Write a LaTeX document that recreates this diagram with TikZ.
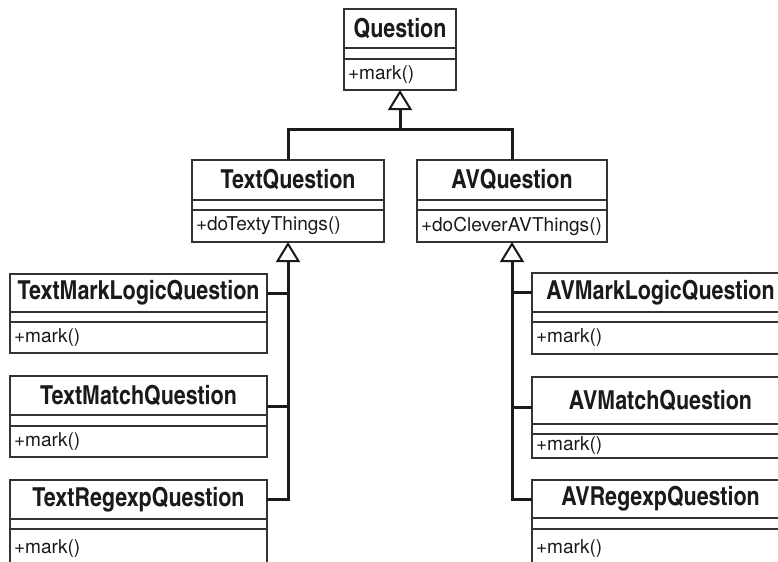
\documentclass[tikz,border=0pt]{standalone}
\usepackage{fontspec}
\setmainfont{TeX Gyre Heros}
\newfontfamily\cnfont{texgyreheroscn}[Extension=.otf, UprightFont=*-regular, BoldFont=*-bold]
\usetikzlibrary{arrows.meta,positioning,calc}
\definecolor{boxgray}{HTML}{333333}
\definecolor{inkblack}{HTML}{1A1A1A}

% one UML class: name, left x, top y, width, row heights (3), title, operation
\newcommand{\umlclass}[9]{%
  \node[clsname,minimum width=#4*0.75pt,text width=#4*0.75pt-4pt,minimum height=#5*0.75pt,anchor=north west] (#1) at (#2,#3) {#8};
  \node[clsgap,minimum width=#4*0.75pt,minimum height=#6*0.75pt,below=0pt of #1] (#1-gap) {};
  \node[clsops,minimum width=#4*0.75pt,text width=#4*0.75pt-6pt,minimum height=#7*0.75pt,below=0pt of #1-gap] (#1-ops) {#9};
}

\begin{document}
\begin{tikzpicture}[x=0.75pt,y=-0.75pt,
  clsname/.style={draw=boxgray,line width=1.5pt,outer sep=0pt,inner sep=0pt,align=center,
    text=inkblack,font=\cnfont\bfseries\fontsize{19.6}{21}\selectfont},
  clsgap/.style={draw=boxgray,line width=1.5pt,outer sep=0pt,inner sep=0pt},
  clsops/.style={draw=boxgray,line width=1.5pt,outer sep=0pt,inner sep=0pt,inner xsep=3pt,align=left,
    text=inkblack,font=\fontsize{14.3}{16}\selectfont},
  link/.style={inkblack,line width=2.25pt},
  genl/.style={link,-{Triangle[open,length=15pt,width=18pt,line width=1.5pt]}}]

  \useasboundingbox (0,0) rectangle (778,561);
  \clip (0,0) rectangle (778,561);

  % base class
  \umlclass{q}{344}{9}{112}{39}{11}{31}{Question}{+mark()}

  % second level
  \umlclass{tq}{192}{160}{192}{40}{10}{32}{TextQuestion}{+doTextyThings()}
  \umlclass{avq}{417}{160}{190}{40}{10}{32}{AVQuestion}{+doCleverAVThings()}

  % text question subclasses
  \umlclass{tmlq}{10}{274}{257}{38}{10}{31}{TextMarkLogicQuestion}{+mark()}
  \umlclass{tmq}{10}{376}{257}{39}{11}{31}{TextMatchQuestion}{+mark()}
  \umlclass{trq}{10}{480}{257}{39}{10}{40}{TextRegexpQuestion}{+mark()}

  % av question subclasses
  \umlclass{avmlq}{532}{273}{257}{39}{10}{32}{AVMarkLogicQuestion}{+mark()}
  \umlclass{avmq}{532}{377}{257}{47}{10}{24}{AVMatchQuestion}{+mark()}
  \umlclass{avrq}{532}{480}{257}{38}{11}{40}{AVRegexpQuestion}{+mark()}

  % inheritance: second level -> Question
  \coordinate (qj) at (400,129);
  \draw[genl] (qj) -- (q-ops.south);
  \draw[link] (tq.north) |- (qj) -| (avq.north);

  % inheritance: text subclasses -> TextQuestion
  \coordinate (tmqc) at ($(tmq.east)+(0,11)$);
  \draw[genl] (trq.east) -| (tq-ops.south);
  \draw[link] (tmlq.east) -- (tmlq.east -| tq-ops.south);
  \draw[link] (tmqc) -- (tmqc -| tq-ops.south);

  % inheritance: av subclasses -> AVQuestion
  \coordinate (avmqc) at ($(avmq.west)+(0,7)$);
  \draw[genl] (avrq.west) -| (avq-ops.south);
  \draw[link] (avmlq.west) -- (avmlq.west -| avq-ops.south);
  \draw[link] (avmqc) -- (avmqc -| avq-ops.south);

\end{tikzpicture}
\end{document}
